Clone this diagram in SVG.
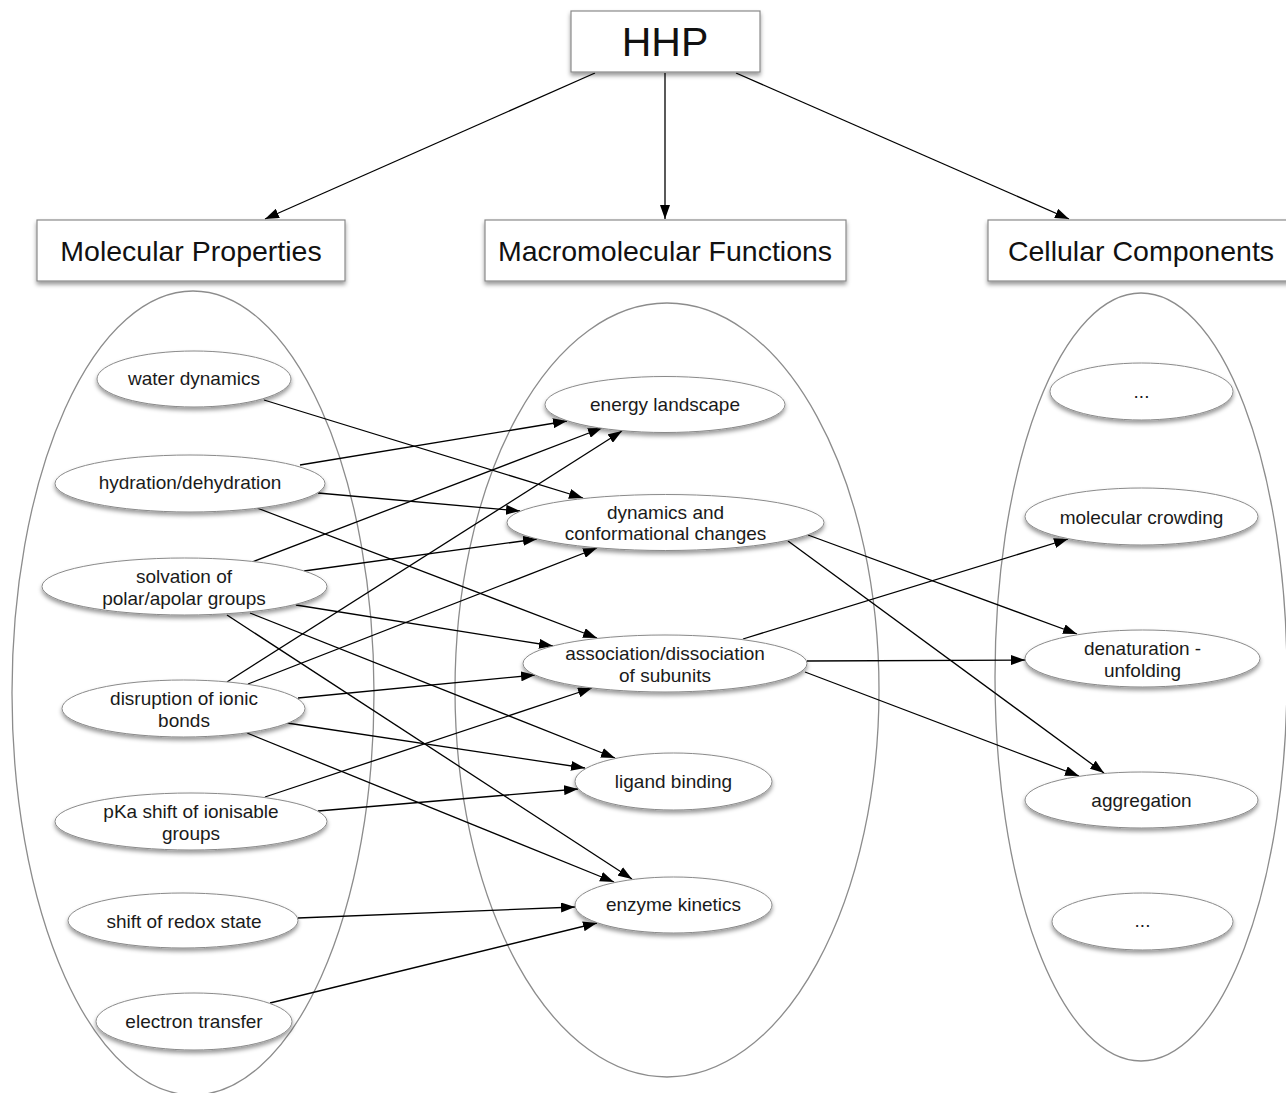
<svg xmlns="http://www.w3.org/2000/svg" width="1286" height="1093" viewBox="0 0 1286 1093">
<style>
  .box { fill: #ffffff; stroke: #8a8a8a; stroke-width: 1.2; filter: url(#sh); }
  .node { fill: #ffffff; stroke: #8a8a8a; stroke-width: 1; filter: url(#sh); }
  .group { fill: none; stroke: #8c8c8c; stroke-width: 1.3; }
  .hdr { font-family: "Liberation Sans", Arial, sans-serif; font-size: 28.5px; fill: #111; text-anchor: middle; }
  .top { font-family: "Liberation Sans", Arial, sans-serif; font-size: 41px; fill: #111; text-anchor: middle; }
  .lbl { font-family: "Liberation Sans", Arial, sans-serif; font-size: 19px; fill: #1a1a1a; text-anchor: middle; }
  .edge { fill: none; stroke: #000; stroke-width: 1.3; marker-end: url(#ah); }
</style>
<defs>
  <filter id="sh" x="-10%" y="-20%" width="120%" height="150%">
    <feDropShadow dx="0" dy="3" stdDeviation="2" flood-color="#000" flood-opacity="0.4"/>
  </filter>
  <marker id="ah" markerUnits="userSpaceOnUse" markerWidth="14" markerHeight="10" refX="14" refY="5" orient="auto">
    <path d="M0,0 L14,5 L0,10 z" fill="#000"/>
  </marker>
</defs>
<rect width="1286" height="1093" fill="#fff"/>

<g id="containers">
  <ellipse class="group" cx="193" cy="693" rx="181" ry="402"/>
  <ellipse class="group" cx="667" cy="690" rx="212" ry="387"/>
  <ellipse class="group" cx="1141" cy="677" rx="146" ry="384"/>
</g>

<g id="connectors">
  <line class="edge" x1="595" y1="73" x2="265" y2="219"/>
  <line class="edge" x1="665" y1="73" x2="665" y2="219"/>
  <line class="edge" x1="736" y1="73" x2="1069" y2="219"/>

  <line class="edge" x1="264" y1="400" x2="583" y2="498"/>

  <line class="edge" x1="300" y1="465" x2="567" y2="421"/>
  <line class="edge" x1="318" y1="493" x2="520" y2="511"/>
  <line class="edge" x1="257" y1="508" x2="597" y2="638"/>

  <line class="edge" x1="252" y1="562" x2="602" y2="428"/>
  <line class="edge" x1="304" y1="571" x2="537" y2="539"/>
  <line class="edge" x1="296" y1="605" x2="553" y2="646"/>
  <line class="edge" x1="250" y1="613" x2="615" y2="758"/>
  <line class="edge" x1="227" y1="615" x2="632" y2="879"/>

  <line class="edge" x1="227" y1="682" x2="622" y2="431"/>
  <line class="edge" x1="248" y1="684" x2="597" y2="548"/>
  <line class="edge" x1="298" y1="698" x2="535" y2="675"/>
  <line class="edge" x1="287" y1="723" x2="585" y2="768"/>
  <line class="edge" x1="247" y1="733" x2="614" y2="882"/>

  <line class="edge" x1="265" y1="797" x2="592" y2="688"/>
  <line class="edge" x1="318" y1="811" x2="578" y2="789"/>

  <line class="edge" x1="298" y1="918" x2="575" y2="907"/>
  <line class="edge" x1="270" y1="1003" x2="597" y2="923"/>

  <line class="edge" x1="808" y1="535" x2="1077" y2="634"/>
  <line class="edge" x1="788" y1="541" x2="1104" y2="773"/>

  <line class="edge" x1="743" y1="639" x2="1068" y2="539"/>
  <line class="edge" x1="807" y1="661" x2="1025" y2="660"/>
  <line class="edge" x1="805" y1="672" x2="1079" y2="776"/>
</g>

<g id="hhp"><rect class="box" x="571" y="11" width="189" height="61"/><text class="top" x="665" y="56">HHP</text></g>
<g id="molecular-properties"><rect class="box" x="37" y="220" width="308" height="61"/><text class="hdr" x="191" y="261">Molecular Properties</text></g>
<g id="macromolecular-functions"><rect class="box" x="485" y="220" width="361" height="61"/><text class="hdr" x="665" y="261">Macromolecular Functions</text></g>
<g id="cellular-components"><rect class="box" x="988" y="220" width="312" height="61"/><text class="hdr" x="1141" y="261">Cellular Components</text></g>

<g id="water-dynamics"><ellipse class="node" cx="194" cy="379" rx="97" ry="28"/><text class="lbl" x="194" y="385">water dynamics</text></g>
<g id="hydration"><ellipse class="node" cx="190" cy="483.5" rx="135" ry="28.5"/><text class="lbl" x="190" y="489">hydration/dehydration</text></g>
<g id="solvation"><ellipse class="node" cx="184.5" cy="586.5" rx="142.5" ry="28.5"/><text class="lbl" x="184" y="583">solvation of</text><text class="lbl" x="184" y="604.5">polar/apolar groups</text></g>
<g id="disruption"><ellipse class="node" cx="183.5" cy="708.5" rx="121.5" ry="28.5"/><text class="lbl" x="184" y="705">disruption of ionic</text><text class="lbl" x="184" y="726.5">bonds</text></g>
<g id="pka-shift"><ellipse class="node" cx="191" cy="821.5" rx="136" ry="28.5"/><text class="lbl" x="191" y="818">pKa shift of ionisable</text><text class="lbl" x="191" y="840">groups</text></g>
<g id="redox"><ellipse class="node" cx="183" cy="920.5" rx="115" ry="27.5"/><text class="lbl" x="184" y="927.5">shift of redox state</text></g>
<g id="electron-transfer"><ellipse class="node" cx="194" cy="1021.5" rx="98" ry="28.5"/><text class="lbl" x="194" y="1028">electron transfer</text></g>

<g id="energy-landscape"><ellipse class="node" cx="665" cy="404.5" rx="120" ry="28"/><text class="lbl" x="665" y="411">energy landscape</text></g>
<g id="dynamics"><ellipse class="node" cx="665.5" cy="522.5" rx="158.5" ry="28"/><text class="lbl" x="665.5" y="518.5">dynamics and</text><text class="lbl" x="665.5" y="540">conformational changes</text></g>
<g id="association"><ellipse class="node" cx="665" cy="663.5" rx="142" ry="28.5"/><text class="lbl" x="665" y="660">association/dissociation</text><text class="lbl" x="665" y="681.5">of subunits</text></g>
<g id="ligand-binding"><ellipse class="node" cx="673.5" cy="781.5" rx="98.5" ry="28.5"/><text class="lbl" x="673.5" y="788">ligand binding</text></g>
<g id="enzyme-kinetics"><ellipse class="node" cx="673.5" cy="905" rx="98.5" ry="28"/><text class="lbl" x="673.5" y="910.5">enzyme kinetics</text></g>

<g id="cc-more-top"><ellipse class="node" cx="1141.5" cy="391.5" rx="91.5" ry="28.5"/><text class="lbl" x="1141.5" y="398">...</text></g>
<g id="molecular-crowding"><ellipse class="node" cx="1141.5" cy="516.5" rx="116.5" ry="28.5"/><text class="lbl" x="1141.5" y="523.5">molecular crowding</text></g>
<g id="denaturation"><ellipse class="node" cx="1142.5" cy="658.5" rx="117.5" ry="28.5"/><text class="lbl" x="1142.5" y="655">denaturation -</text><text class="lbl" x="1142.5" y="676.5">unfolding</text></g>
<g id="aggregation"><ellipse class="node" cx="1141.5" cy="800" rx="116.5" ry="28"/><text class="lbl" x="1141.5" y="806.5">aggregation</text></g>
<g id="cc-more-bottom"><ellipse class="node" cx="1142.5" cy="921.5" rx="90.5" ry="28.5"/><text class="lbl" x="1142.5" y="927">...</text></g>
</svg>
